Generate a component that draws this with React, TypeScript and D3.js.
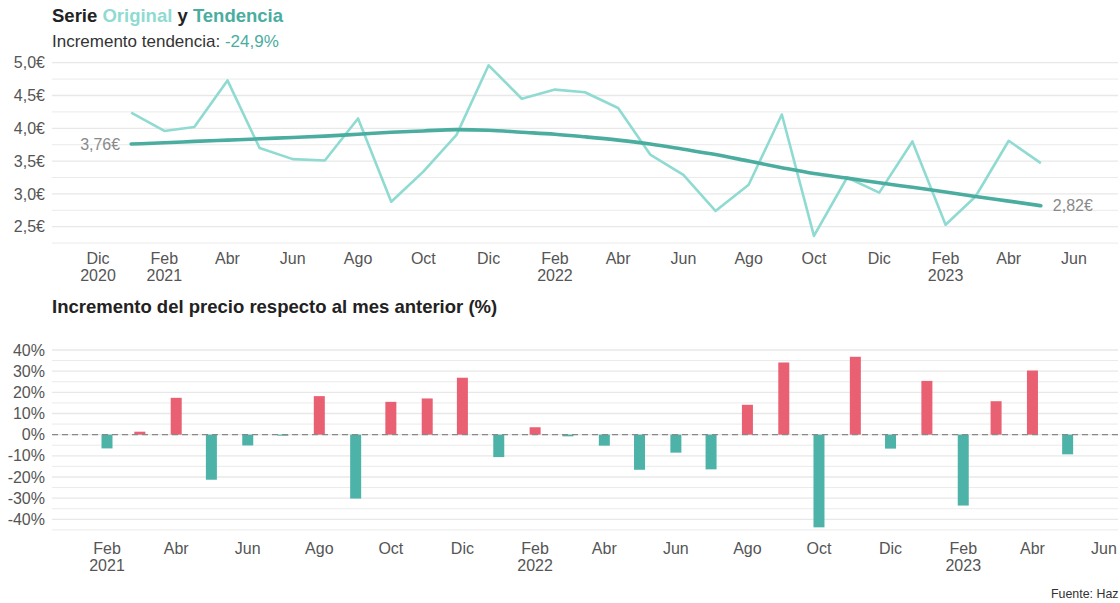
import React from 'react';
import * as d3 from 'd3';

// meses de la serie (primer día de mes)
const meses = [
  '2021-01', '2021-02', '2021-03', '2021-04', '2021-05', '2021-06', '2021-07', '2021-08', '2021-09', '2021-10',
  '2021-11', '2021-12', '2022-01', '2022-02', '2022-03', '2022-04', '2022-05', '2022-06', '2022-07', '2022-08',
  '2022-09', '2022-10', '2022-11', '2022-12', '2023-01', '2023-02', '2023-03', '2023-04', '2023-05',
];
const original = [
  4.24, 3.96, 4.02, 4.73, 3.70, 3.53, 3.51, 4.15, 2.88, 3.34,
  3.90, 4.96, 4.45, 4.59, 4.55, 4.31, 3.60, 3.29, 2.74, 3.14,
  4.21, 2.36, 3.25, 3.02, 3.80, 2.53, 2.96, 3.81, 3.47,
];
const tendencia = [
  3.76, 3.78, 3.80, 3.82, 3.84, 3.86, 3.88, 3.91, 3.94, 3.96,
  3.98, 3.97, 3.94, 3.91, 3.87, 3.82, 3.76, 3.68, 3.60, 3.50,
  3.40, 3.31, 3.24, 3.17, 3.10, 3.03, 2.96, 2.89, 2.82,
];
// incremento mensual (%) desde feb 2021
const mesesIncr = meses.slice(1);
const incremento = [
  -6.5, 1.4, 17.4, -21.3, -5.1, -0.5, 18.2, -30.2, 15.5, 17.1,
  26.9, -10.6, 3.5, -0.8, -5.2, -16.6, -8.5, -16.4, 14.1, 34.1,
  -43.8, 36.8, -6.6, 25.4, -33.5, 15.8, 30.3, -9.3,
];

const ticksArriba = ['2020-12', '2021-02', '2021-04', '2021-06', '2021-08', '2021-10', '2021-12', '2022-02', '2022-04', '2022-06', '2022-08', '2022-10', '2022-12', '2023-02', '2023-04', '2023-06'];
const ticksAbajo = ticksArriba.slice(1);
const ticksEuros = [2.5, 3.0, 3.5, 4.0, 4.5, 5.0];
const ticksPct = [-40, -30, -20, -10, 0, 10, 20, 30, 40];
const nombresMes = ['Ene', 'Feb', 'Mar', 'Abr', 'May', 'Jun', 'Jul', 'Ago', 'Sep', 'Oct', 'Nov', 'Dic'];

const parse = d3.timeParse('%Y-%m');
const W = 1120;
const gridL = 52, gridR = 1118;
const font = '"Liberation Sans", Arial, Helvetica, sans-serif';
const cOriginal = '#8fdbd2';
const cTend = '#4aad9f';
const cNeg = '#4db3a8';
const cPos = '#e96072';
const cGrid = '#e8e8e8';
const cText = '#555';
const fsTick = 16;

const fmtEuro = (v: number) => d3.format('.1f')(v).replace('.', ',') + '€';
const fmtEuro2 = (v: number) => d3.format('.2f')(v).replace('.', ',') + '€';

function MesLabels({ ticks, x, y }: { ticks: string[]; x: d3.ScaleTime<number, number>; y: number }) {
  return (
    <g>
      {ticks.map((t, i) => {
        const d = parse(t)!;
        const m = d.getMonth();
        const showYear = m === 1 || i === 0;
        return (
          <text key={t} x={x(d)} y={y} textAnchor="middle" fontSize={fsTick} fill={cText}>
            <tspan x={x(d)}>{nombresMes[m]}</tspan>
            {showYear && <tspan x={x(d)} dy={17}>{d.getFullYear()}</tspan>}
          </text>
        );
      })}
    </g>
  );
}

export default function App() {
  // gráfico superior
  const x1 = d3.scaleTime().domain([parse('2020-12')!, parse('2023-06')!]).range([98, 1074]);
  const y1 = d3.scaleLinear().domain([2.5, 5.0]).range([226.7, 62.7]);
  const grid1 = d3.range(2.25, 5.001, 0.25);
  const fechas = meses.map((m) => parse(m)!);
  const lineaOrig = d3.line<number>().x((_, i) => x1(fechas[i])).y((v) => y1(v));
  const lineaTend = d3.line<number>().x((_, i) => x1(fechas[i])).y((v) => y1(v)).curve(d3.curveMonotoneX);

  // gráfico inferior
  const x2 = d3.scaleTime().domain([parse('2021-02')!, parse('2023-06')!]).range([107, 1104]);
  const y2 = d3.scaleLinear().domain([-40, 40]).range([519.3, 350]);
  const grid2 = d3.range(-45, 40.001, 5);
  const barW = 11;

  return (
    <div>
      <style>{`body{margin:0}`}</style>
      <svg width={W} height={603} style={{ display: 'block', fontFamily: font }}>
        <rect width={W} height={603} fill="#fff" />
        <text x={52} y={22} fontSize={18.5} fontWeight="bold" fill="#222">
          Serie <tspan fill={cOriginal}>Original</tspan> y <tspan fill={cTend}>Tendencia</tspan>
        </text>
        <text x={52} y={47} fontSize={17} fill="#333">
          Incremento tendencia: <tspan fill={cTend}>-24,9%</tspan>
        </text>

        {grid1.map((g) => (
          <line key={g} x1={gridL} x2={gridR} y1={y1(g)} y2={y1(g)} stroke={cGrid} strokeWidth={Math.abs(g * 2 - Math.round(g * 2)) < 1e-6 ? 1.3 : 0.9} />
        ))}
        {ticksEuros.map((t) => (
          <text key={t} x={45} y={y1(t)} dy="0.35em" textAnchor="end" fontSize={fsTick} fill={cText}>{fmtEuro(t)}</text>
        ))}
        <MesLabels ticks={ticksArriba} x={x1} y={263.5} />

        <path d={lineaOrig(original)!} fill="none" stroke={cOriginal} strokeWidth={2.6} strokeLinejoin="round" />
        <path d={lineaTend(tendencia)!} fill="none" stroke={cTend} strokeWidth={3.6} strokeLinecap="round" />
        <text x={x1(fechas[0]) - 11} y={y1(tendencia[0])} dy="0.35em" textAnchor="end" fontSize={fsTick} fill="#8a8a8a">
          {fmtEuro2(tendencia[0])}
        </text>
        <text x={x1(fechas[fechas.length - 1]) + 12} y={y1(tendencia[tendencia.length - 1])} dy="0.35em" fontSize={fsTick} fill="#8a8a8a">
          {fmtEuro2(tendencia[tendencia.length - 1])}
        </text>

        <text x={52} y={313} fontSize={18.5} fontWeight="bold" fill="#222">
          Incremento del precio respecto al mes anterior (%)
        </text>
        {grid2.map((g) => (
          <line key={g} x1={gridL} x2={gridR} y1={y2(g)} y2={y2(g)} stroke={cGrid} strokeWidth={g % 10 === 0 ? 1.3 : 0.9} />
        ))}
        {ticksPct.map((t) => (
          <text key={t} x={45} y={y2(t)} dy="0.35em" textAnchor="end" fontSize={fsTick} fill={cText}>{t}%</text>
        ))}
        {incremento.map((v, i) => {
          const d = parse(mesesIncr[i])!;
          return (
            <rect key={mesesIncr[i]} x={x2(d) - barW / 2} width={barW}
              y={Math.min(y2(v), y2(0))} height={Math.abs(y2(v) - y2(0))} fill={v >= 0 ? cPos : cNeg} />
          );
        })}
        <line x1={gridL} x2={gridR} y1={y2(0)} y2={y2(0)} stroke="#888" strokeWidth={1.2} strokeDasharray="6,4" />
        <MesLabels ticks={ticksAbajo} x={x2} y={554} />

        <text x={1051} y={598} fontSize={12.4} fill="#333">Fuente: Haz</text>
      </svg>
    </div>
  );
}
